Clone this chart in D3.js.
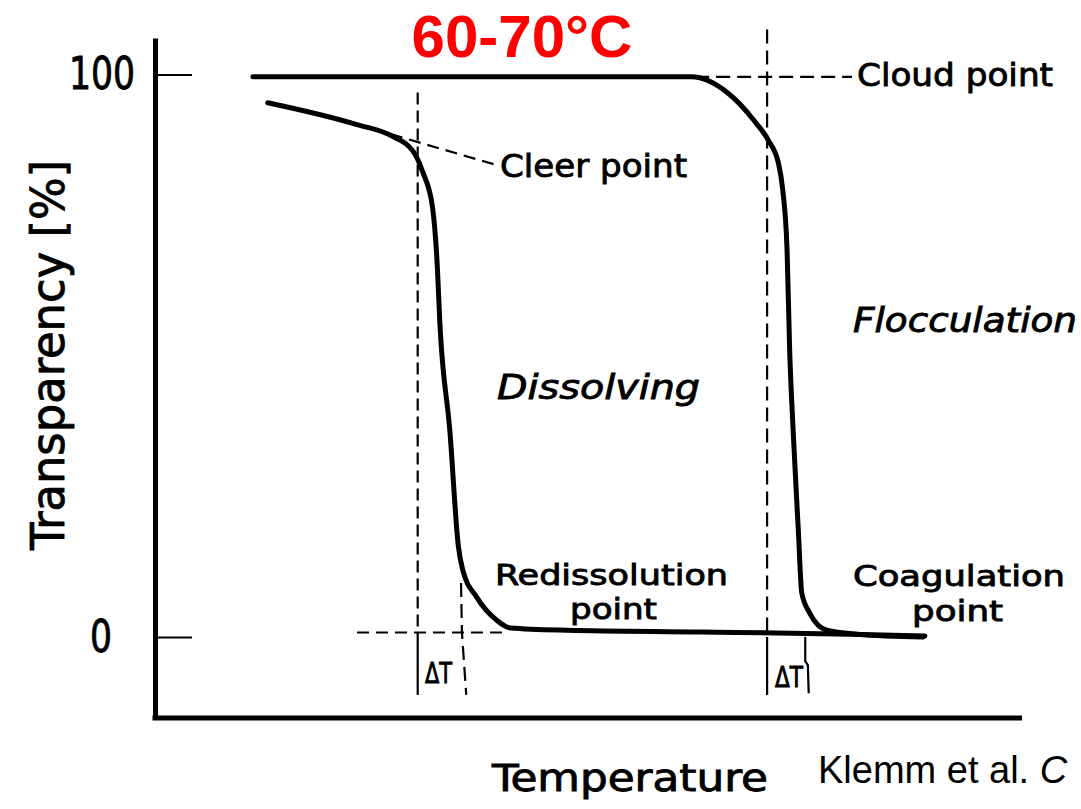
<!DOCTYPE html>
<html>
<head>
<meta charset="utf-8">
<script src="https://cdn.jsdelivr.net/npm/d3@7"></script>
<style>
	body { margin: 0; background: #fff; }
	text { font-family: "DejaVu Sans Condensed", "DejaVu Sans", sans-serif; fill: #000; }
	.lettering { stroke: #000; stroke-width: 0.8px; }
</style>
</head>
<body>
<div id="chart-area"></div>
<script>

// heating run (clear point / redissolution), temperature in arbitrary units, transparency in %
const heatingTemp = [13.0, 23.3, 27.4, 29.8, 30.9, 32.0, 32.5, 32.9, 34.0, 35.0, 35.5, 37.1, 39.4, 41.0, 47.5, 62.9, 80.2, 88.8];
const heatingTransparency = [95.0, 91.1, 89.0, 86.3, 82.6, 76.5, 67.6, 54.6, 36.8, 16.0, 11.9, 7.1, 3.0, 1.6, 1.2, 0.9, 0.5, 0.2];

// cooling run (cloud point / coagulation)
const coolingTemp = [11.3, 61.9, 66.0, 69.0, 70.7, 71.9, 72.4, 72.9, 73.2, 73.6, 74.2, 74.6, 75.5, 77.5, 81.0, 88.6];
const coolingTransparency = [99.6, 99.6, 96.8, 92.0, 88.4, 84.3, 79.5, 68.9, 51.1, 36.8, 19.0, 7.8, 4.3, 1.2, 0.5, 0.0];

// characteristic temperatures
const markerNames = ["Cleer point", "Redissolution point", "Cloud point", "Coagulation point"];
const markerTemps = [30.3, 35.4, 70.6, 75.0];

// y axis ticks
const yTickValues = [0, 100];
const yTickLabels = ["0", "100"];


class TransparencyChart {

	constructor(parentElement) {
		this.parentElement = parentElement;
		this.heating = heatingTemp.map((t, i) => ({t: t, v: heatingTransparency[i]}));
		this.cooling = coolingTemp.map((t, i) => ({t: t, v: coolingTransparency[i]}));
		this.initVis();
	}

	initVis() {
		let vis = this;

		vis.width = 1081;
		vis.height = 809;

		vis.svg = d3.select("#" + vis.parentElement).append("svg")
			.attr("width", vis.width)
			.attr("height", vis.height);

		// scales
		vis.x = d3.scaleLinear()
			.domain([0, 100])
			.range([155, 1022]);
		vis.y = d3.scaleLinear()
			.domain([-14.4, 106.5])
			.range([718, 38]);

		vis.line = d3.line()
			.x(d => vis.x(d.t))
			.y(d => vis.y(d.v))
			.curve(d3.curveMonotoneX);

		vis.updateVis();
	}

	updateVis() {
		let vis = this;

		// axes
		let yAxis = d3.axisLeft(vis.y)
			.tickValues(yTickValues)
			.tickFormat((d, i) => yTickLabels[i])
			.tickSizeInner(-35)
			.tickSizeOuter(0)
			.tickPadding(20);

		let yAxisG = vis.svg.append("g")
			.attr("class", "axis y-axis")
			.attr("transform", "translate(" + vis.x(0) + ",0)")
			.call(yAxis);
		yAxisG.select(".domain").attr("stroke-width", 5);
		yAxisG.selectAll(".tick line").attr("stroke-width", 2).attr("transform", "translate(2,0)");
		yAxisG.selectAll(".tick text")
			.attr("class", "lettering")
			.attr("font-family", "DejaVu Sans Condensed, DejaVu Sans, sans-serif")
			.attr("font-size", 44)
			.attr("x", d => d === 100 ? -20 : -43)
			.attr("textLength", d => d === 100 ? 66 : 22)
			.attr("lengthAdjust", "spacingAndGlyphs");

		let xAxis = d3.axisBottom(vis.x)
			.tickValues([])
			.tickSizeOuter(0);

		let xAxisG = vis.svg.append("g")
			.attr("class", "axis x-axis")
			.attr("transform", "translate(0," + vis.y(-14.4) + ")")
			.call(xAxis);
		xAxisG.select(".domain").attr("stroke-width", 5).attr("d", "M" + (vis.x(0) - 2.5) + ",0H" + vis.x(100));

		// dashed guide lines
		let clearT = markerTemps[0], redisT = markerTemps[1], cloudT = markerTemps[2], coagT = markerTemps[3];
		let guides = [
			{pts: [[clearT, 96.8], [clearT, 0]], dash: "12,6"},
			{pts: [[clearT, 0], [clearT, -10.3]], dash: null},
			{pts: [[27.2, 89.4], [39.2, 84.0]], dash: "12,7"},
			{pts: [[23.3, 0.8], [40.5, 0.8]], dash: "12,7"},
			{pts: [[redisT - 0.1, 9.6], [redisT, 0.8], [redisT + 0.5, -10.3]], dash: "14,7"},
			{pts: [[cloudT, 108], [cloudT, 0]], dash: "14,7"},
			{pts: [[cloudT, 0], [cloudT, -10.3]], dash: null},
			{pts: [[62.3, 99.6], [80.4, 99.6]], dash: "14,7"},
			{pts: [[coagT, 0], [coagT, -4.3], [coagT + 0.3, -5], [coagT + 0.4, -10]], dash: null}
		];

		vis.svg.append("g").attr("id", "guides")
			.selectAll("path")
			.data(guides)
			.enter()
			.append("path")
			.attr("d", d => d3.line().x(p => vis.x(p[0])).y(p => vis.y(p[1]))(d.pts))
			.attr("fill", "none")
			.attr("stroke", "#000")
			.attr("stroke-width", 2.2)
			.attr("stroke-dasharray", d => d.dash);

		// curves
		vis.svg.append("g").attr("id", "curves")
			.selectAll("path")
			.data([vis.heating, vis.cooling])
			.enter()
			.append("path")
			.attr("d", vis.line)
			.attr("fill", "none")
			.attr("stroke", "#000")
			.attr("stroke-width", 5)
			.attr("stroke-linecap", "round");

		// labels
		let labels = [
			{text: "Cloud point", x: 857, y: 86, size: 32, len: 196},
			{text: "Cleer point", x: 500, y: 177, size: 32, len: 187},
			{text: "Dissolving", x: 497, y: 399, size: 34, len: 203, italic: true},
			{text: "Flocculation", x: 853, y: 332, size: 34, len: 224, italic: true},
			{text: "Redissolution", x: 495, y: 585, size: 29, len: 233},
			{text: "point", x: 570, y: 619, size: 29, len: 87},
			{text: "Coagulation", x: 853, y: 586, size: 29, len: 212},
			{text: "point", x: 912, y: 621, size: 29, len: 91},
			{text: "ΔT", x: 425, y: 683, size: 28, len: 27},
			{text: "ΔT", x: 775, y: 687, size: 28, len: 28},
			{text: "Temperature", x: 492, y: 791, size: 38, len: 276}
		];

		vis.svg.append("g").attr("id", "labels")
			.selectAll("text")
			.data(labels)
			.enter()
			.append("text")
			.attr("class", "lettering")
			.attr("x", d => d.x)
			.attr("y", d => d.y)
			.attr("font-size", d => d.size)
			.attr("font-style", d => d.italic ? "italic" : "normal")
			.attr("textLength", d => d.len)
			.attr("lengthAdjust", "spacingAndGlyphs")
			.text(d => d.text);

		// y axis title
		vis.svg.append("text")
			.attr("class", "lettering")
			.attr("transform", "translate(64,355) rotate(-90)")
			.attr("text-anchor", "middle")
			.attr("font-size", 46)
			.attr("textLength", 390)
			.attr("lengthAdjust", "spacingAndGlyphs")
			.text("Transparency [%]");

		// header and source
		vis.svg.append("text")
			.attr("x", 522)
			.attr("y", 57)
			.attr("text-anchor", "middle")
			.style("font-family", "Liberation Sans, Arial, sans-serif")
			.style("font-weight", "bold")
			.style("fill", "#ff0000")
			.attr("font-size", 60)
			.text("60-70°C");

		let src = vis.svg.append("text")
			.attr("x", 818)
			.attr("y", 783)
			.style("font-family", "Liberation Sans, Arial, sans-serif")
			.attr("font-size", 38)
			.text("Klemm et al. ");
		src.append("tspan")
			.style("font-style", "italic")
			.text("C");
	}
}

let chart = new TransparencyChart("chart-area");

</script>
</body>
</html>
